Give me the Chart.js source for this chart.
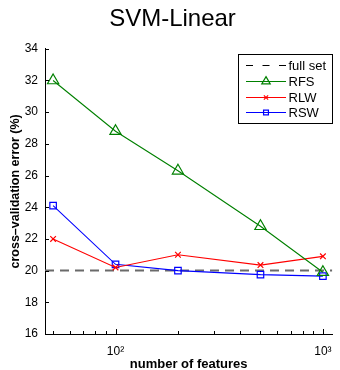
<!DOCTYPE html>
<html><head><meta charset="utf-8">
<script src="https://cdn.jsdelivr.net/npm/chart.js@4/dist/chart.umd.min.js"></script>
<style>html,body{margin:0;padding:0;background:#fff;}#wrap{width:340px;height:370px;}</style>
</head><body><div id="wrap"><canvas id="c" width="340" height="370"></canvas></div>
<script>
const chartTitle = 'SVM-Linear';
const xTitle = 'number of features';
const yTitle = 'cross\u2013validation error (%)';
const features = [50, 100, 200, 500, 1000];
const rfs = [32.0, 28.8, 26.3, 22.8, 19.9];
const rlw = [22.0, 20.2, 21.0, 20.35, 20.9];
const rsw = [24.1, 20.4, 20.0, 19.75, 19.65];
const fullSet = 20;
const xLimits = [45.7, 1110];
const yLimits = [16, 34];
const yTicks = [16, 18, 20, 22, 24, 26, 28, 30, 32, 34];
const xMajorTicks = [100, 1000];
const xTickLabels = ['10\u00B2', '10\u00B3'];
const xMinorTicks = [50, 60, 70, 80, 90, 200, 300, 400, 500, 600, 700, 800, 900];
const seriesNames = ['full set', 'RFS', 'RLW', 'RSW'];

const FONT = "'Liberation Sans', Arial, Helvetica, sans-serif";
const pts = ys => features.map((x, i) => ({x: x, y: ys[i]}));

const insideTicks = {
  id: 'insideTicks',
  afterDraw(chart) {
    const ctx = chart.ctx, xs = chart.scales.x, ys = chart.scales.y, a = chart.chartArea;
    ctx.save();
    ctx.strokeStyle = '#000'; ctx.lineWidth = 1;
    ctx.beginPath();
    yTicks.forEach(v => { const p = Math.round(ys.getPixelForValue(v)) + 0.5; ctx.moveTo(a.left, p); ctx.lineTo(a.left + 4, p); });
    xMajorTicks.forEach(v => { const p = Math.round(xs.getPixelForValue(v)) + 0.5; ctx.moveTo(p, a.bottom); ctx.lineTo(p, a.bottom - 5); });
    xMinorTicks.forEach(v => { const p = Math.round(xs.getPixelForValue(v)) + 0.5; ctx.moveTo(p, a.bottom); ctx.lineTo(p, a.bottom - 3); });
    ctx.stroke();
    ctx.restore();
  }
};

function drawMarker(ctx, style, x, y, r) {
  ctx.beginPath();
  if (style === 'triangle') {
    ctx.moveTo(x, y - r); ctx.lineTo(x + r * 0.866, y + r * 0.5); ctx.lineTo(x - r * 0.866, y + r * 0.5); ctx.closePath();
  } else if (style === 'rect') {
    const s = r * Math.SQRT1_2; ctx.rect(x - s, y - s, 2 * s, 2 * s);
  } else if (style === 'crossRot') {
    const s = r * Math.SQRT1_2; ctx.moveTo(x - s, y - s); ctx.lineTo(x + s, y + s); ctx.moveTo(x - s, y + s); ctx.lineTo(x + s, y - s);
  }
  ctx.stroke();
}

const legendMarkerScale = 0.75;
const boxLegend = {
  id: 'boxLegend',
  afterDraw(chart) {
    const ctx = chart.ctx;
    const L = 238.5, T = 54.5, R = 332.5, B = 123.5;
    ctx.save();
    ctx.fillStyle = '#fff'; ctx.fillRect(L, T, R - L, B - T);
    ctx.strokeStyle = '#000'; ctx.lineWidth = 1; ctx.strokeRect(L, T, R - L, B - T);
    ctx.font = '13px ' + FONT; ctx.textBaseline = 'middle'; ctx.textAlign = 'left';
    chart.data.datasets.forEach((ds, i) => {
      const y = Math.round(65 + i * 15.8) + 0.5;
      ctx.setLineDash(i === 0 ? [7, 9.5] : []);
      ctx.strokeStyle = i === 0 ? '#000' : ds.borderColor;
      ctx.lineWidth = 1;
      ctx.beginPath(); ctx.moveTo(246, y); ctx.lineTo(286, y); ctx.stroke();
      ctx.setLineDash([]);
      if (ds.pointRadius > 0) { ctx.lineWidth = ds.pointBorderWidth; drawMarker(ctx, ds.pointStyle, 266, y, ds.pointRadius * legendMarkerScale); }
      ctx.fillStyle = '#000';
      ctx.fillText(ds.label, 288.5, y + 0.5);
    });
    ctx.restore();
  }
};

new Chart(document.getElementById('c'), {
  type: 'line',
  data: {
    datasets: [
      {label: seriesNames[0], data: [{x: xLimits[0], y: fullSet}, {x: xLimits[1], y: fullSet}], borderColor: '#6a6a6a', borderWidth: 2, borderDash: [9, 6], pointRadius: 0, order: 10},
      {label: seriesNames[1], data: pts(rfs), borderColor: '#008000', borderWidth: 1.1, pointStyle: 'triangle', pointRadius: 6.5, pointBorderWidth: 1.2, pointBorderColor: '#008000', pointBackgroundColor: 'rgba(0,0,0,0)', order: 1},
      {label: seriesNames[2], data: pts(rlw), borderColor: '#ff0000', borderWidth: 1.1, pointStyle: 'crossRot', pointRadius: 4, pointBorderWidth: 1.2, pointBorderColor: '#ff0000', pointBackgroundColor: 'rgba(0,0,0,0)', order: 2},
      {label: seriesNames[3], data: pts(rsw), borderColor: '#0000ff', borderWidth: 1.1, pointStyle: 'rect', pointRadius: 4.6, pointBorderWidth: 1.2, pointBorderColor: '#0000ff', pointBackgroundColor: 'rgba(0,0,0,0)', order: 3}
    ]
  },
  options: {
    responsive: false, animation: false, devicePixelRatio: 1,
    layout: {padding: {left: 7, right: 2, top: 0, bottom: 0}},
    plugins: {
      legend: {display: false}, tooltip: {enabled: false},
      title: {display: true, text: chartTitle, color: '#000', font: {family: FONT, size: 24, weight: 'normal', lineHeight: 1.2}, padding: {top: 5, bottom: 15}}
    },
    elements: {line: {tension: 0}},
    scales: {
      x: {
        type: 'logarithmic', min: xLimits[0], max: xLimits[1],
        grid: {display: false, drawTicks: false},
        border: {display: true, color: '#000', width: 1},
        afterBuildTicks: s => { s.ticks = xMajorTicks.map(v => ({value: v})); },
        ticks: {autoSkip: false, maxRotation: 0, padding: 10, color: '#000', font: {family: FONT, size: 12},
          callback: (v, i) => xTickLabels[i]},
        title: {display: true, text: xTitle, color: '#000', font: {family: FONT, size: 13, weight: 'bold', lineHeight: 1}, padding: {top: 0, bottom: -1}},
        afterFit: s => { s.height = 36; s.paddingLeft = 0; s.paddingRight = 0; }
      },
      y: {
        type: 'linear', min: yLimits[0], max: yLimits[1],
        grid: {display: false, drawTicks: false},
        border: {display: true, color: '#000', width: 1},
        afterBuildTicks: s => { s.ticks = yTicks.map(v => ({value: v})); },
        ticks: {padding: 7, color: '#000', font: {family: FONT, size: 12}},
        title: {display: true, text: yTitle, color: '#000', font: {family: FONT, size: 12.5, weight: 'bold', lineHeight: 1.2}, padding: {top: 1, bottom: 0}},
        afterFit: s => { s.width = 38; s.paddingTop = 0; s.paddingBottom = 0; }
      }
    }
  },
  plugins: [insideTicks, boxLegend]
});
</script>
</body></html>
